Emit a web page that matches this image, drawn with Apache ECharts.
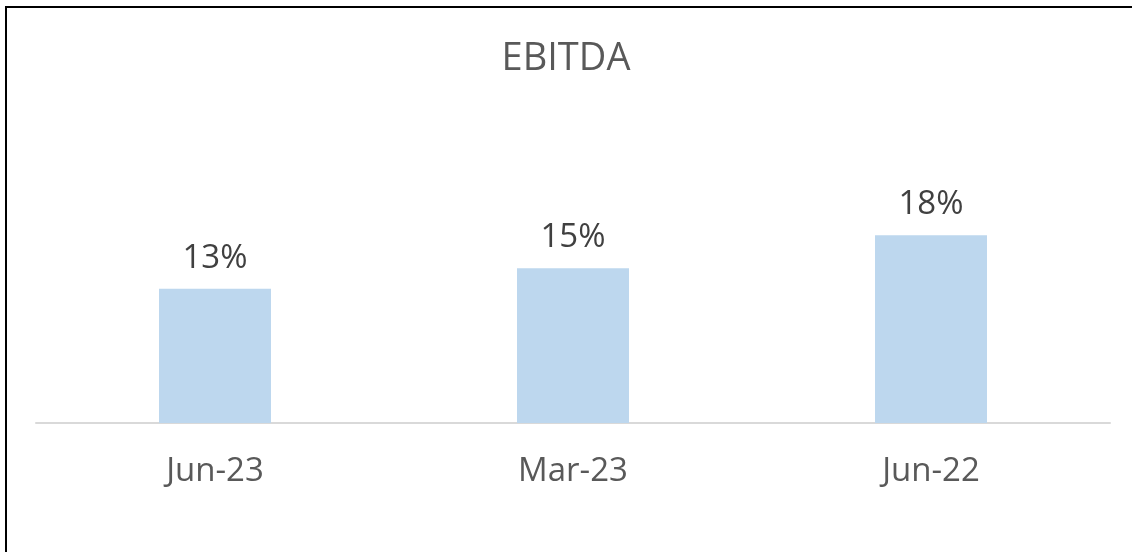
<!DOCTYPE html>
<html>
<head>
<meta charset="utf-8">
<script src="https://cdn.jsdelivr.net/npm/echarts@6/dist/echarts.min.js"></script>
<style>
  html, body { margin: 0; padding: 0; background: #fff; }
  #chart { width: 1132px; height: 552px; }
</style>
</head>
<body>
<div id="chart"></div>
<script>
var categories = ['Jun-23', 'Mar-23', 'Jun-22'];
var ebitda = [0.130, 0.150, 0.182];

var font = '"Open Sans", "Noto Sans", sans-serif';

var chart = echarts.init(document.getElementById('chart'));
chart.setOption({
    backgroundColor: '#fff',
    animation: false,
    title: {
        text: 'EBITDA',
        left: 'center',
        top: 35,
        textStyle: { color: '#595959', fontSize: 38, fontWeight: 'normal', fontFamily: font }
    },
    graphic: [{
        type: 'rect',
        shape: { x: 6, y: 7, width: 1140, height: 560 },
        style: { fill: 'none', stroke: '#000', lineWidth: 2 },
        silent: true
    }],
    grid: { left: 36, right: 22, top: 165, bottom: 129 },
    xAxis: {
        type: 'category',
        data: categories,
        axisLine: { lineStyle: { color: '#d9d9d9', width: 2 } },
        axisTick: { show: false },
        axisLabel: { color: '#595959', fontSize: 33, fontFamily: font, margin: 32 }
    },
    yAxis: {
        type: 'value',
        min: 0,
        max: 0.25,
        show: false,
        splitLine: { show: false }
    },
    series: [{
        type: 'bar',
        data: ebitda,
        barWidth: 112,
        itemStyle: { color: '#bdd7ee' },
        label: {
            show: true,
            position: 'top',
            distance: 14,
            color: '#404040',
            fontSize: 33,
            fontFamily: font,
            formatter: function (p) { return Math.round(p.value * 100) + '%'; }
        }
    }]
});
window.addEventListener('resize', function () {
    chart.resize();
});
</script>
</body>
</html>
